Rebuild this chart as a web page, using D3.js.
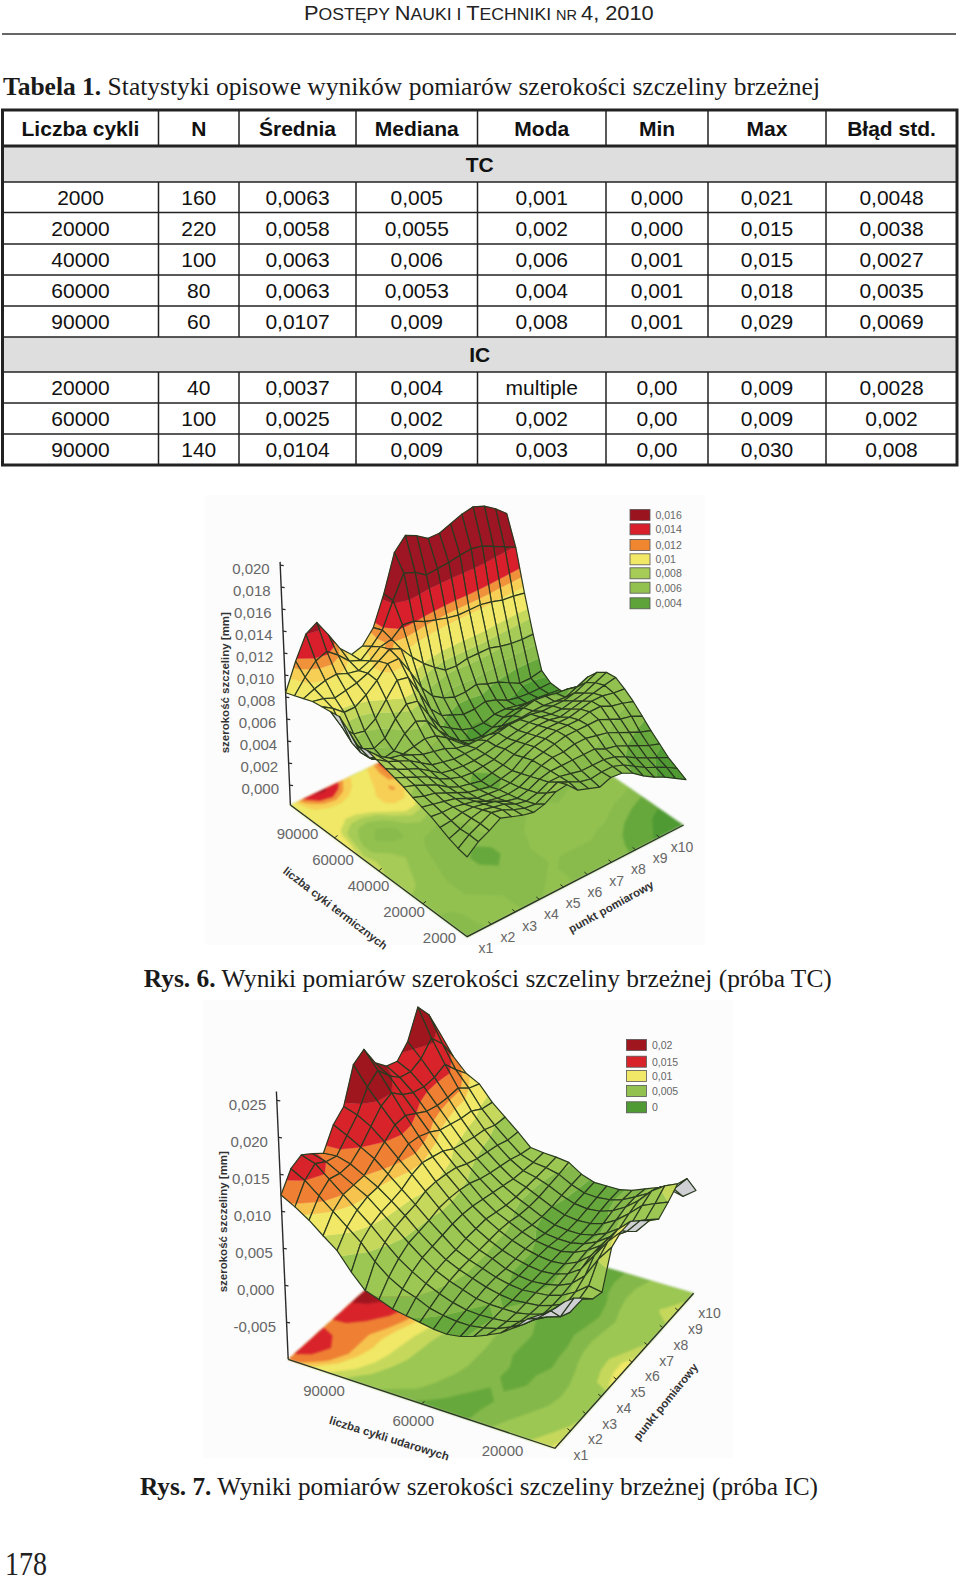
<!DOCTYPE html>
<html>
<head>
<meta charset="utf-8">
<script src="https://cdn.jsdelivr.net/npm/d3@7"></script>
<style>
body { margin: 0; background: white; }
text { font-family: "Liberation Sans", Arial, sans-serif; }
.serif { font-family: "Liberation Serif", "Times New Roman", serif; }
</style>
</head>
<body>
<div id="container"></div>
<script>
// table
const tableHead = ['Liczba cykli', 'N', 'Średnia', 'Mediana', 'Moda', 'Min', 'Max', 'Błąd std.']
const tcRows = [
  ['2000', '160', '0,0063', '0,005', '0,001', '0,000', '0,021', '0,0048'],
  ['20000', '220', '0,0058', '0,0055', '0,002', '0,000', '0,015', '0,0038'],
  ['40000', '100', '0,0063', '0,006', '0,006', '0,001', '0,015', '0,0027'],
  ['60000', '80', '0,0063', '0,0053', '0,004', '0,001', '0,018', '0,0035'],
  ['90000', '60', '0,0107', '0,009', '0,008', '0,001', '0,029', '0,0069']
]
const icRows = [
  ['20000', '40', '0,0037', '0,004', 'multiple', '0,00', '0,009', '0,0028'],
  ['60000', '100', '0,0025', '0,002', '0,002', '0,00', '0,009', '0,002'],
  ['90000', '140', '0,0104', '0,009', '0,003', '0,00', '0,030', '0,008']
]

// surface heights in 0.0001 mm, rows from the front cycle edge to the back one, x1 to x10 along a row
const tcSurface = [
  [40, 47, 51, 56, 53, 50, 48, 50, 55, 56, 48, 45, 42, 45, 44, 40, 34, 29, 25, 20, 15],
  [42, 48, 52, 56, 54, 50, 47, 46, 50, 54, 50, 46, 44, 45, 45, 42, 37, 32, 28, 24, 19],
  [45, 48, 52, 54, 52, 50, 46, 44, 46, 50, 50, 48, 46, 46, 46, 44, 40, 35, 31, 27, 23],
  [49, 50, 52, 52, 50, 48, 44, 42, 44, 48, 50, 50, 50, 50, 50, 46, 44, 40, 36, 32, 29],
  [53, 52, 52, 50, 48, 44, 42, 41, 42, 46, 50, 52, 52, 54, 54, 52, 50, 46, 42, 38, 35],
  [56, 54, 52, 50, 46, 42, 41, 40, 41, 44, 50, 52, 54, 56, 56, 56, 56, 52, 48, 46, 42],
  [59, 56, 54, 50, 46, 42, 40, 38, 40, 42, 48, 52, 54, 56, 56, 56, 58, 58, 54, 52, 49],
  [63, 60, 56, 52, 46, 42, 40, 38, 40, 42, 46, 50, 52, 54, 54, 54, 56, 58, 58, 56, 55],
  [66, 62, 58, 54, 48, 44, 41, 40, 41, 42, 46, 48, 50, 52, 52, 50, 52, 54, 56, 58, 60],
  [69, 64, 60, 56, 50, 44, 42, 41, 41, 42, 44, 46, 48, 50, 50, 48, 48, 50, 52, 56, 60],
  [72, 66, 62, 58, 52, 46, 44, 42, 42, 42, 44, 46, 48, 48, 48, 46, 46, 46, 48, 52, 56],
  [75, 66, 60, 58, 54, 50, 48, 46, 42, 40, 40, 40, 40, 41, 41, 42, 42, 41, 40, 44, 48],
  [74, 60, 54, 50, 50, 52, 54, 52, 46, 38, 32, 30, 30, 34, 38, 40, 42, 41, 39, 38, 36],
  [82, 60, 50, 46, 48, 58, 64, 60, 48, 38, 30, 26, 25, 28, 32, 34, 34, 31, 28, 25, 23],
  [90, 64, 54, 50, 54, 66, 74, 72, 56, 42, 36, 30, 27, 27, 30, 30, 28, 26, 26, 25, 24],
  [90, 72, 62, 60, 66, 78, 90, 88, 70, 52, 42, 38, 34, 34, 36, 33, 28, 26, 25, 25, 25],
  [90, 84, 76, 76, 82, 90, 100, 100, 84, 66, 54, 48, 44, 44, 46, 42, 39, 34, 29, 29, 31],
  [90, 88, 84, 86, 88, 92, 98, 104, 100, 88, 78, 70, 63, 62, 64, 64, 64, 61, 59, 58, 58],
  [88, 92, 95, 96, 92, 90, 94, 102, 104, 112, 111, 106, 103, 100, 98, 98, 98, 96, 93, 92, 90],
  [86, 98, 108, 112, 104, 94, 90, 98, 108, 130, 150, 146, 139, 140, 141, 143, 144, 142, 137, 132, 127],
  [84, 108, 128, 134, 118, 101, 91, 94, 106, 132, 165, 176, 171, 164, 164, 168, 172, 174, 170, 163, 154]
]
const icSurface = [
  [89, 84, 75, 61, 46, 41, 88, 95, 95, 82, 68, 56, 65, 76, 69, 39],
  [75, 66, 44, 36, 40, 44, 66, 76, 78, 62, 48, 50, 58, 68, 50, 26],
  [63, 50, 38, 30, 28, 30, 38, 52, 55, 50, 44, 42, 50, 56, 48, 30],
  [45, 36, 28, 22, 20, 20, 22, 28, 32, 32, 30, 28, 34, 38, 34, 28],
  [32, 26, 20, 16, 14, 14, 14, 16, 18, 20, 18, 16, 20, 24, 24, 21],
  [23, 18, 14, 12, 12, 12, 10, 10, 10, 12, 10, 8, 10, 14, 15, 14],
  [15, 13, 12, 12, 10, 10, 8, 8, 8, 8, 6, 4, 5, 8, 10, 10],
  [9, 10, 11, 12, 12, 12, 10, 10, 10, 9, 6, 4, 4, 6, 8, 10],
  [6, 10, 12, 14, 16, 16, 14, 14, 14, 12, 8, 6, 6, 8, 9, 10],
  [7, 12, 16, 20, 22, 22, 22, 20, 20, 18, 14, 12, 12, 14, 15, 16],
  [10, 16, 22, 26, 28, 28, 28, 28, 28, 26, 22, 20, 20, 22, 24, 27],
  [13, 24, 30, 34, 36, 36, 38, 38, 38, 34, 30, 28, 28, 28, 28, 29],
  [16, 30, 40, 46, 48, 50, 52, 52, 50, 46, 42, 38, 34, 32, 30, 30],
  [23, 40, 52, 60, 62, 64, 68, 68, 66, 62, 55, 50, 46, 42, 36, 32],
  [29, 55, 68, 75, 78, 80, 85, 85, 82, 78, 70, 64, 60, 56, 50, 48],
  [48, 75, 85, 90, 92, 95, 102, 105, 100, 95, 85, 80, 75, 72, 65, 63],
  [71, 90, 100, 105, 105, 110, 118, 125, 122, 115, 105, 100, 95, 92, 82, 78],
  [85, 105, 115, 115, 115, 125, 135, 145, 145, 135, 125, 120, 118, 118, 105, 98],
  [100, 120, 130, 125, 125, 135, 150, 165, 170, 155, 145, 140, 140, 145, 125, 107],
  [112, 135, 145, 135, 130, 145, 160, 185, 195, 175, 160, 155, 160, 175, 155, 125],
  [122, 145, 151, 140, 128, 154, 166, 210, 218, 187, 170, 164, 178, 212, 189, 151]
]

const pointLabels = ['x1', 'x2', 'x3', 'x4', 'x5', 'x6', 'x7', 'x8', 'x9', 'x10']
const tcCycles = ['90000', '60000', '40000', '20000', '2000']
const icCycles = ['90000', '60000', '20000']
const tcZTicks = [200, 180, 160, 140, 120, 100, 80, 60, 40, 20, 0]
const icZTicks = [250, 200, 150, 100, 50, 0, -50]
const tcLegendLabels = ['0,016', '0,014', '0,012', '0,01', '0,008', '0,006', '0,004']
const tcLegendColors = ['#9a1420', '#d81f2b', '#f0862f', '#f0e866', '#a6cb56', '#93c150', '#5ea23a']
const icLegendLabels = ['0,02', '0,015', '0,01', '0,005', '0']
const icLegendColors = ['#a0161f', '#d8232b', '#f0e866', '#93c150', '#4f9a33']
const tcBandLimits = [28, 40, 50, 60, 70, 78, 95, 103, 110, 128]
const tcBandColors = ['#4f9a33', '#67a83c', '#88bb4c', '#93c150', '#a6cb56', '#c6d85c', '#f0e866', '#f7cf55', '#f0923a', '#d81f2b', '#9e1524']
const icBandLimits = [4, 12, 25, 65, 85, 105, 115, 135, 170]
const icBandColors = ['#4f9a33', '#67a83c', '#84b84a', '#9cc753', '#c6d85c', '#f0e866', '#f7c34f', '#ee7f33', '#d8232b', '#a0161f']

const svg = d3.select('#container').append('svg')
  .attr('width', 960)
  .attr('height', 1581)
  .style('display', 'block')
  .style('background', 'white')

// page head, small capitals, squeezed to the printed width
const headParts = [['P', 21], ['OSTĘPY ', 17], ['N', 21], ['AUKI I ', 17], ['T', 21], ['ECHNIKI  ', 17], ['NR ', 14], ['4, 2010', 21]]
const head = svg.append('text').attr('transform', 'translate(304,19.5)').attr('fill', '#222')
head.selectAll('tspan').data(headParts).enter().append('tspan')
  .attr('font-size', d => d[1]).text(d => d[0])
head.attr('transform', `translate(304,19.5) scale(${350 / head.node().getComputedTextLength()},1)`)
svg.append('line').attr('x1', 2).attr('x2', 956).attr('y1', 34).attr('y2', 34)
  .attr('stroke', '#333').attr('stroke-width', 1.5)

const serifLine = (bold, rest, x, y, size, width) => {
  const t = svg.append('text').attr('class', 'serif').attr('x', x).attr('y', y)
    .attr('font-size', size).attr('fill', '#1a1a1a')
    .attr('textLength', width).attr('lengthAdjust', 'spacingAndGlyphs')
  t.append('tspan').attr('font-weight', 'bold').text(bold)
  t.append('tspan').text(rest)
}
serifLine('Tabela 1.', ' Statystyki opisowe wyników pomiarów szerokości szczeliny brzeżnej', 3, 95, 26, 817)

// table drawing
const colLines = [2.5, 158.5, 239, 356, 477.5, 606, 708, 826, 957]
const rowLines = [110, 146, 182, 212.5, 244, 275, 306, 337, 372, 403, 434, 465]
const tableRows = [
  { cells: tableHead, bold: true },
  { span: 'TC' },
  ...tcRows.map(cells => ({ cells })),
  { span: 'IC' },
  ...icRows.map(cells => ({ cells }))
]
const table = svg.append('g').attr('fill', '#111').attr('font-size', 21)
tableRows.forEach((row, r) => {
  const y0 = rowLines[r], y1 = rowLines[r + 1], mid = (y0 + y1) / 2
  if (row.span) {
    table.append('rect').attr('x', colLines[0]).attr('y', y0).attr('width', colLines[8] - colLines[0])
      .attr('height', y1 - y0).attr('fill', '#dedede')
    table.append('text').attr('x', (colLines[0] + colLines[8]) / 2).attr('y', mid + 7.5)
      .attr('text-anchor', 'middle').attr('font-weight', 'bold').text(row.span)
  } else {
    table.selectAll(null).data(row.cells).enter().append('text')
      .attr('x', (d, i) => (colLines[i] + colLines[i + 1]) / 2)
      .attr('y', mid + 7.5)
      .attr('text-anchor', 'middle')
      .attr('font-weight', row.bold ? 'bold' : 'normal')
      .text(d => d)
    table.selectAll(null).data(colLines.slice(1, -1)).enter().append('line')
      .attr('x1', d => d).attr('x2', d => d).attr('y1', y0).attr('y2', y1)
      .attr('stroke', '#222').attr('stroke-width', 1.5)
  }
})
table.selectAll(null).data(rowLines.slice(1, -1)).enter().append('line')
  .attr('x1', colLines[0]).attr('x2', colLines[8]).attr('y1', d => d).attr('y2', d => d)
  .attr('stroke', '#222').attr('stroke-width', (d, i) => i === 0 ? 3 : 1.5)
table.append('rect').attr('x', colLines[0]).attr('y', rowLines[0])
  .attr('width', colLines[8] - colLines[0]).attr('height', rowLines[11] - rowLines[0])
  .attr('fill', 'none').attr('stroke', '#222').attr('stroke-width', 3)

// cut a polygon on one side of a height
const cutPolygon = (poly, limit, above) => {
  const out = []
  poly.forEach((a, n) => {
    const b = poly[(n + 1) % poly.length]
    const inA = (a.z >= limit) === above
    const inB = (b.z >= limit) === above
    if (inA) out.push(a)
    if (inA !== inB) {
      const t = (limit - a.z) / (b.z - a.z)
      out.push({ i: a.i + (b.i - a.i) * t, j: a.j + (b.j - a.j) * t, z: limit })
    }
  })
  return out
}

const drawSurface = (values, o) => {
  svg.append('rect').attr('x', o.box[0]).attr('y', o.box[1]).attr('width', o.box[2]).attr('height', o.box[3])
    .attr('fill', '#fcfcfc')
  const g = svg.append('g')
  const ni = values[0].length - 1
  const nj = values.length - 1
  const uScale = d3.scaleLinear().domain([0, ni]).range([0, 1]).clamp(true)
  const vScale = d3.scaleLinear().domain([0, nj]).range([0, 1]).clamp(true)
  const kScale = d3.scaleLinear().domain([0, 1]).range(o.k)
  const colorOf = d3.scaleThreshold().domain(o.limits).range(o.colors)

  const floorAt = (i, j) => {
    const u = uScale(i), v = vScale(j)
    const mix = p => o.A[p] * (1 - u) * (1 - v) + o.B[p] * u * (1 - v) + o.C[p] * (1 - u) * v + o.D[p] * u * v
    return [mix(0), mix(1)]
  }
  const project = (i, j, z) => {
    const f = floorAt(i, j)
    const h = kScale(vScale(j)) * (z - o.zFloor)
    return [f[0] + (f[0] - o.A[0]) * h * o.fan, f[1] - h]
  }
  const line = d3.line()

  // contour map on the floor
  const flat = values.flat()
  const contours = d3.contours().size([ni + 1, nj + 1]).thresholds([-1000, ...o.limits])(flat)
  const floorPath = d3.geoPath(d3.geoTransform({
    point(x, y) {
      const p = floorAt(x - 0.5, y - 0.5)
      this.stream.point(p[0], p[1])
    }
  }))
  g.append('g').style('filter', 'blur(0.8px)')
    .selectAll('path').data(contours).enter().append('path')
    .attr('d', floorPath)
    .attr('fill', d => colorOf(d.value))

  // axes
  const zAt = z => project(0, nj, z)
  g.append('path').attr('d', line([zAt(o.zTop), zAt(o.zFloor)]))
    .attr('fill', 'none').attr('stroke', '#2b2b2b').attr('stroke-width', 1.4)
  g.append('path').attr('d', line([o.C, o.A, o.B]))
    .attr('fill', 'none').attr('stroke', '#2b3322').attr('stroke-width', 1.4)
  g.selectAll(null).data(o.zTicks).enter().append('path')
    .attr('d', d => { const p = zAt(d); return line([p, [p[0] + 3.5, p[1] + 0.5]]) })
    .attr('stroke', '#2b2b2b').attr('stroke-width', 1.2)
  g.selectAll(null).data(d3.range(0, 1.0001, 1 / (o.cycles.length - 1)).slice(1, -1)).enter().append('path')
    .attr('d', d => { const p = floorAt(0, d * nj); return line([p, [p[0] + 3, p[1] - 2.5]]) })
    .attr('stroke', '#2b3322').attr('stroke-width', 1)
  g.selectAll(null).data(d3.range(1, 9)).enter().append('path')
    .attr('d', d => { const p = floorAt(d / 9 * ni, 0); return line([p, [p[0] - 3, p[1] - 2.5]]) })
    .attr('stroke', '#2b3322').attr('stroke-width', 1)

  // cells of the surface, back ones first
  const cells = []
  for (let j = 0; j < nj; j++) {
    for (let i = 0; i < ni; i++) {
      cells.push({ i, j, depth: floorAt(i + 0.5, j + 0.5)[1] })
    }
  }
  cells.sort((a, b) => d3.ascending(a.depth, b.depth))
  cells.forEach(c => {
    const corners = [[c.i, c.j], [c.i + 1, c.j], [c.i + 1, c.j + 1], [c.i, c.j + 1]]
      .map(p => ({ i: p[0], j: p[1], z: values[p[1]][p[0]] }))
    const toScreen = poly => poly.map(p => project(p.i, p.j, p.z))
    const quad = toScreen(corners)
    const flipped = d3.polygonArea(quad) * d3.polygonArea(corners.map(p => floorAt(p.i, p.j))) < 0
    if (flipped) {
      g.append('path').attr('d', line(quad) + 'Z').attr('fill', '#cfd0d4')
    } else {
      const edges = [-1000, ...o.limits, 1000]
      d3.pairs(edges).forEach(([lo, hi]) => {
        const band = cutPolygon(cutPolygon(corners, lo, true), hi, false)
        if (band.length < 3) return
        const col = colorOf((lo + hi) / 2)
        g.append('path').attr('d', line(toScreen(band)) + 'Z')
          .attr('fill', col).attr('stroke', col).attr('stroke-width', 0.4)
      })
    }
    g.append('path').attr('d', line(quad) + 'Z')
      .attr('fill', 'none').attr('stroke', '#2a3a20').attr('stroke-width', 1.2)
      .attr('stroke-linejoin', 'round')
  })

  // z labels
  g.selectAll(null).data(o.zTicks).enter().append('text')
    .attr('x', d => zAt(d)[0] - 10.5)
    .attr('y', d => zAt(d)[1] + o.zLabelDy)
    .attr('text-anchor', 'end')
    .attr('font-size', 15)
    .attr('fill', '#666')
    .text(d => (d < 0 ? '-' : '') + d3.format('.3f')(Math.abs(d) / 10000).replace('.', ','))

  // cycle labels
  const cycleX = d3.scalePoint().domain(o.cycles).range(o.cycleX)
  const cycleY = d3.scalePoint().domain(o.cycles).range(o.cycleY)
  g.selectAll(null).data(o.cycles).enter().append('text')
    .attr('x', d => cycleX(d)).attr('y', d => cycleY(d) + 5.5)
    .attr('text-anchor', 'middle').attr('font-size', 15).attr('fill', '#666')
    .text(d => d)

  // measuring point labels
  const pointX = d3.scalePoint().domain(pointLabels).range(o.pointX)
  const pointY = d3.scalePoint().domain(pointLabels).range(o.pointY)
  g.selectAll(null).data(pointLabels).enter().append('text')
    .attr('x', d => pointX(d)).attr('y', d => pointY(d) + 5)
    .attr('text-anchor', 'middle').attr('font-size', 14).attr('fill', '#666')
    .text(d => d)

  // axis names
  g.selectAll(null).data(o.names).enter().append('text')
    .attr('transform', d => `translate(${d.x},${d.y}) rotate(${d.angle})`)
    .attr('text-anchor', 'middle').attr('dy', 4)
    .attr('font-size', 11.5).attr('font-weight', 'bold').attr('fill', '#333')
    .text(d => d.text)

  // legend
  g.selectAll(null).data(o.legendLabels).enter().append('rect')
    .attr('x', o.legendX).attr('y', (d, i) => o.legendY[i] - 5.5)
    .attr('width', 20).attr('height', 11)
    .attr('fill', (d, i) => o.legendColors[i])
    .attr('stroke', '#555').attr('stroke-width', 0.8)
  g.selectAll(null).data(o.legendLabels).enter().append('text')
    .attr('x', o.legendX + 25.5).attr('y', (d, i) => o.legendY[i] + 4)
    .attr('font-size', 10.5).attr('fill', '#666')
    .text(d => d)
}

drawSurface(tcSurface, {
  box: [205, 495, 500, 450],
  A: [467.2, 936.7], B: [683.6, 825], C: [290.4, 805], D: [505, 702.7],
  zFloor: -18, zTop: 203, k: [1.375, 1.1], fan: 2.4e-4,
  limits: tcBandLimits, colors: tcBandColors,
  zTicks: tcZTicks, zLabelDy: 8.5,
  cycles: tcCycles, cycleX: [297.5, 439.5], cycleY: [833, 937],
  pointX: [486, 682], pointY: [948, 847],
  names: [
    { text: 'szerokość szczeliny [mm]', x: 225, y: 682.7, angle: -90 },
    { text: 'liczba cyki termicznych', x: 335.4, y: 908.3, angle: 37.5 },
    { text: 'punkt pomiarowy', x: 611, y: 906.7, angle: -29 }
  ],
  legendX: 630, legendY: [515, 529.3, 545, 559.3, 573.3, 587.7, 603.3],
  legendLabels: tcLegendLabels, legendColors: tcLegendColors
})

drawSurface(icSurface, {
  box: [203, 1000, 530, 458],
  A: [555, 1448.3], B: [693.6, 1293.3], C: [288.2, 1359.3], D: [443.6, 1219.3],
  zFloor: -100, zTop: 262, k: [0.74, 0.74], fan: 1.65e-4,
  limits: icBandLimits, colors: icBandColors,
  zTicks: icZTicks, zLabelDy: 10,
  cycles: icCycles, cycleX: [324, 502.5], cycleY: [1390, 1450.7],
  pointX: [581, 709.6], pointY: [1455, 1313.3],
  names: [
    { text: 'szerokość szczeliny [mm]', x: 222.9, y: 1221.7, angle: -90 },
    { text: 'liczba cykli udarowych', x: 389.3, y: 1438.3, angle: 17.3 },
    { text: 'punkt pomiarowy', x: 665.7, y: 1401.7, angle: -51 }
  ],
  legendX: 626.4, legendY: [1045, 1061.7, 1076, 1091, 1107.3],
  legendLabels: icLegendLabels, legendColors: icLegendColors
})

serifLine('Rys. 6.', ' Wyniki pomiarów szerokości szczeliny brzeżnej (próba TC)', 143.8, 987, 26, 688)
serifLine('Rys. 7.', ' Wyniki pomiarów szerokości szczeliny brzeżnej (próba IC)', 140, 1495, 26, 678)
svg.append('text').attr('class', 'serif').attr('x', 5).attr('y', 1575)
  .attr('font-size', 33).attr('fill', '#222')
  .attr('textLength', 42).attr('lengthAdjust', 'spacingAndGlyphs').text('178')
</script>
</body>
</html>
